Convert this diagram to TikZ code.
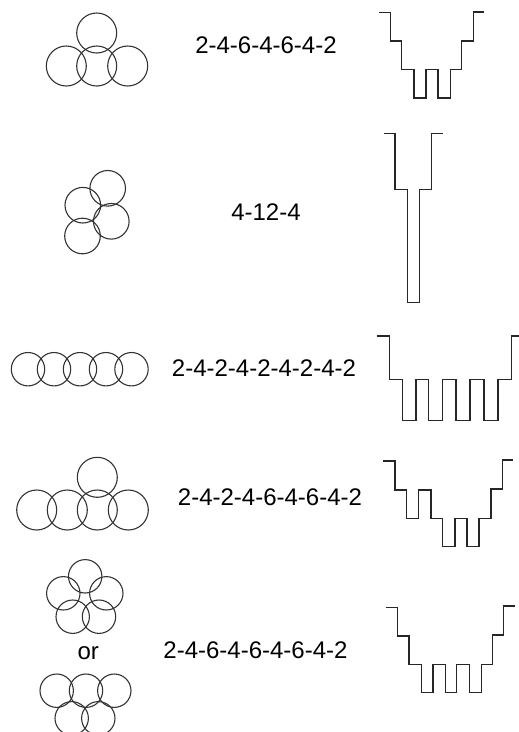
\documentclass[tikz,border=0pt]{standalone}
\usepackage{fontspec}
\setmainfont{Liberation Sans}
\begin{document}
\begin{tikzpicture}[x=1pt,y=-1pt,
  ring/.style={draw=black!80,line width=1.1pt},
  wave/.style={draw=black!85,line width=1.4pt,line join=miter},
  label/.style={font=\fontsize{24}{28}\selectfont,inner sep=0pt,anchor=center}]
\useasboundingbox (0,0) rectangle (519,732);
\clip (0,0) rectangle (519,732);
% Row 1
\foreach \cx/\cy in {66.3/66,96.7/66,127.7/66,96.7/33}
  \draw[ring] (\cx,\cy) circle (20);
\node[label] (t1) at (266,45) {2-4-6-4-6-4-2};
\draw[wave] (379,12.5) -- (390.7,12.5) -- (390.7,41) -- (401.7,41) -- (401.7,69.7) -- (414,69.7) -- (414,98) -- (426,98) -- (426,69.7) -- (438,69.7) -- (438,98) -- (450.3,98) -- (450.3,69.7) -- (461.7,69.7) -- (461.7,41) -- (473.3,41) -- (473.3,12) -- (484.3,12);
% Row 2
\foreach \cx/\cy in {107.7/188.3,82.8/205.2,111.3/221.3,82.5/236}
  \draw[ring] (\cx,\cy) circle (17.8);
\node[label] (t2) at (266,212) {4-12-4};
\draw[wave] (384,133.3) -- (395,133.3) -- (395,189.3) -- (407.3,189.3) -- (407.3,302.7) -- (419.3,302.7) -- (419.3,189.3) -- (431.7,189.3) -- (431.7,133.3) -- (442.7,133.3);
% Row 3
\foreach \cx in {28,54,80,106,131.5}
  \draw[ring] (\cx,369.2) circle (16.7);
\node[label] (t3) at (264,368) {2-4-2-4-2-4-2-4-2};
\draw[wave] (376.7,336) -- (389.3,336) -- (389.3,379.3) -- (402.3,379.3) -- (402.3,420.7) -- (416,420.7) -- (416,379.3) -- (428.7,379.3) -- (428.7,420.7) -- (442.7,420.7) -- (442.7,379.3) -- (456,379.3) -- (456,420.7) -- (470,420.7) -- (470,379.3) -- (484,379.3) -- (484,420.7) -- (498,420.7) -- (498,379.3) -- (511.7,379.3) -- (511.7,336) -- (519,336);
% Row 4
\foreach \cx/\cy in {36.7/510,67.3/510,97.3/510,128.3/510,97.3/477.3}
  \draw[ring] (\cx,\cy) circle (20);
\node[label] (t4) at (270,497) {2-4-2-4-6-4-6-4-2};
\draw[wave] (383.3,461) -- (395,461) -- (395,490) -- (406.7,490) -- (406.7,518.5) -- (418.7,518.5) -- (418.7,490) -- (431,490) -- (431,518.5) -- (442.7,518.5) -- (442.7,546.7) -- (455,546.7) -- (455,518.5) -- (467,518.5) -- (467,546.7) -- (479,546.7) -- (479,518.5) -- (491,518.5) -- (491,489) -- (502.3,489) -- (502.3,460) -- (513.3,460);
% Row 5
\foreach \cx/\cy in {85.2/576.3,63.3/593.3,106.3/593.3,72.7/616.7,99/616.7}
  \draw[ring] (\cx,\cy) circle (16.7);
\node[label] (or) at (88.3,653.5) {or};
\foreach \cx/\cy in {56.7/690.7,86/690.7,114.3/690.7,71.7/718.3,98.3/718.3}
  \draw[ring] (\cx,\cy) circle (16.7);
\node[label] (t5) at (255.5,650) {2-4-6-4-6-4-6-4-2};
\draw[wave] (385.7,607.3) -- (397.7,607.3) -- (397.7,636) -- (409,636) -- (409,664.3) -- (421.3,664.3) -- (421.3,692.7) -- (433,692.7) -- (433,664.3) -- (445.3,664.3) -- (445.3,692.7) -- (456.7,692.7) -- (456.7,664.3) -- (469.3,664.3) -- (469.3,692.7) -- (481.3,692.7) -- (481.3,664.3) -- (492.7,664.3) -- (492.7,635) -- (503.3,635) -- (503.3,606) -- (515,606);
\end{tikzpicture}
\end{document}
